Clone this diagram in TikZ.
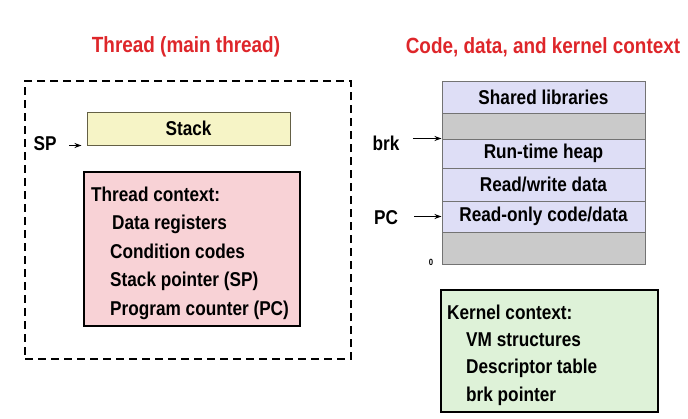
\documentclass[tikz,border=0pt]{standalone}
\usepackage{fontspec}
\setmainfont{Liberation Sans}[FakeStretch=0.86]
\usetikzlibrary{arrows.meta}
\definecolor{titlered}{RGB}{222,38,42}
\definecolor{stackyellow}{RGB}{246,244,198}
\definecolor{ctxpink}{RGB}{248,210,214}
\definecolor{seglav}{RGB}{222,222,246}
\definecolor{seggray}{RGB}{202,202,202}
\definecolor{kergreen}{RGB}{222,242,216}
\begin{document}
\begin{tikzpicture}[x=1pt,y=-1pt, every node/.style={font=\bfseries\fontsize{20}{28}\selectfont},
  title/.style={text=titlered,font=\bfseries\fontsize{22}{26}\selectfont},
  seg/.style={draw=black!55,line width=1pt,minimum width=203pt,inner sep=0pt},
  ctxbox/.style={draw,line width=2pt,inner sep=0pt},
  ctxtext/.style={anchor=west,align=left,inner sep=0pt},
  ptr/.style={-{Stealth[length=7pt,width=5pt]},line width=1.3pt}]
  \useasboundingbox (0,0) rectangle (688,418);
  % titles
  \node[title] (ttitle) at (186,47) {Thread (main thread)};
  \node[title] (ctitle) at (543,47) {Code, data, and kernel context};
  % thread
  \node[draw,line width=2pt,dash pattern=on 8pt off 5pt,minimum width=326pt,minimum height=278pt] (thread) at (188,220) {};
  \node[draw=black!50!yellow!60!black,line width=1pt,fill=stackyellow,minimum width=203pt,minimum height=33pt,inner sep=0pt] (stack) at (188.5,128.5) {Stack};
  \node (sp) at (45,144) {SP};
  \draw[ptr,shorten >=5pt] ([xshift=9pt]sp.east |- stack.south west) -- (stack.south west);
  \node[ctxbox,fill=ctxpink,minimum width=216pt,minimum height=154pt] (tctx) at (192,249) {};
  \node[ctxtext,font=\bfseries\fontsize{20}{28.5}\selectfont] (tctxtext) at ([xshift=8pt,yshift=-4pt]tctx.west) {Thread context:\\\hspace*{21pt}Data registers\\\hspace*{19pt}Condition codes\\\hspace*{19pt}Stack pointer (SP)\\\hspace*{19pt}Program counter (PC)};
  % address space
  \node[seg,fill=seglav,minimum height=32pt] (shlib) at (543.5,97) {Shared libraries};
  \node[seg,fill=seggray,minimum height=26pt] (gaptop) at (543.5,126) {};
  \node[seg,fill=seglav,minimum height=29pt] (heap) at (543.5,153.5) {Run-time heap};
  \node[seg,fill=seglav,minimum height=33pt] (rwdata) at (543.5,184.5) {Read/write data};
  \node[seg,fill=seglav,minimum height=31pt] (rocode) at (543.5,216.5) {Read-only code/data};
  \node[seg,fill=seggray,minimum height=32pt] (gapbot) at (543.5,248) {};
  \node[font=\bfseries\fontsize{9}{9}\selectfont] (zero) at (431,262) {0};
  \node (brk) at (386,143) {brk};
  \draw[ptr] ([xshift=10pt]brk.east |- heap.north west) -- (heap.north west);
  \node (pc) at (386,218) {PC};
  \draw[ptr] ([xshift=13pt]pc.east |- rocode.west) -- (rocode.west);
  % kernel
  \node[ctxbox,fill=kergreen,minimum width=217pt,minimum height=122pt] (kctx) at (549.5,351) {};
  \node[ctxtext,font=\bfseries\fontsize{20}{27.4}\selectfont] (kctxtext) at ([xshift=7pt,yshift=-4pt]kctx.west) {Kernel context:\\\hspace*{19pt}VM structures\\\hspace*{19pt}Descriptor table\\\hspace*{19pt}brk pointer};
\end{tikzpicture}
\end{document}
